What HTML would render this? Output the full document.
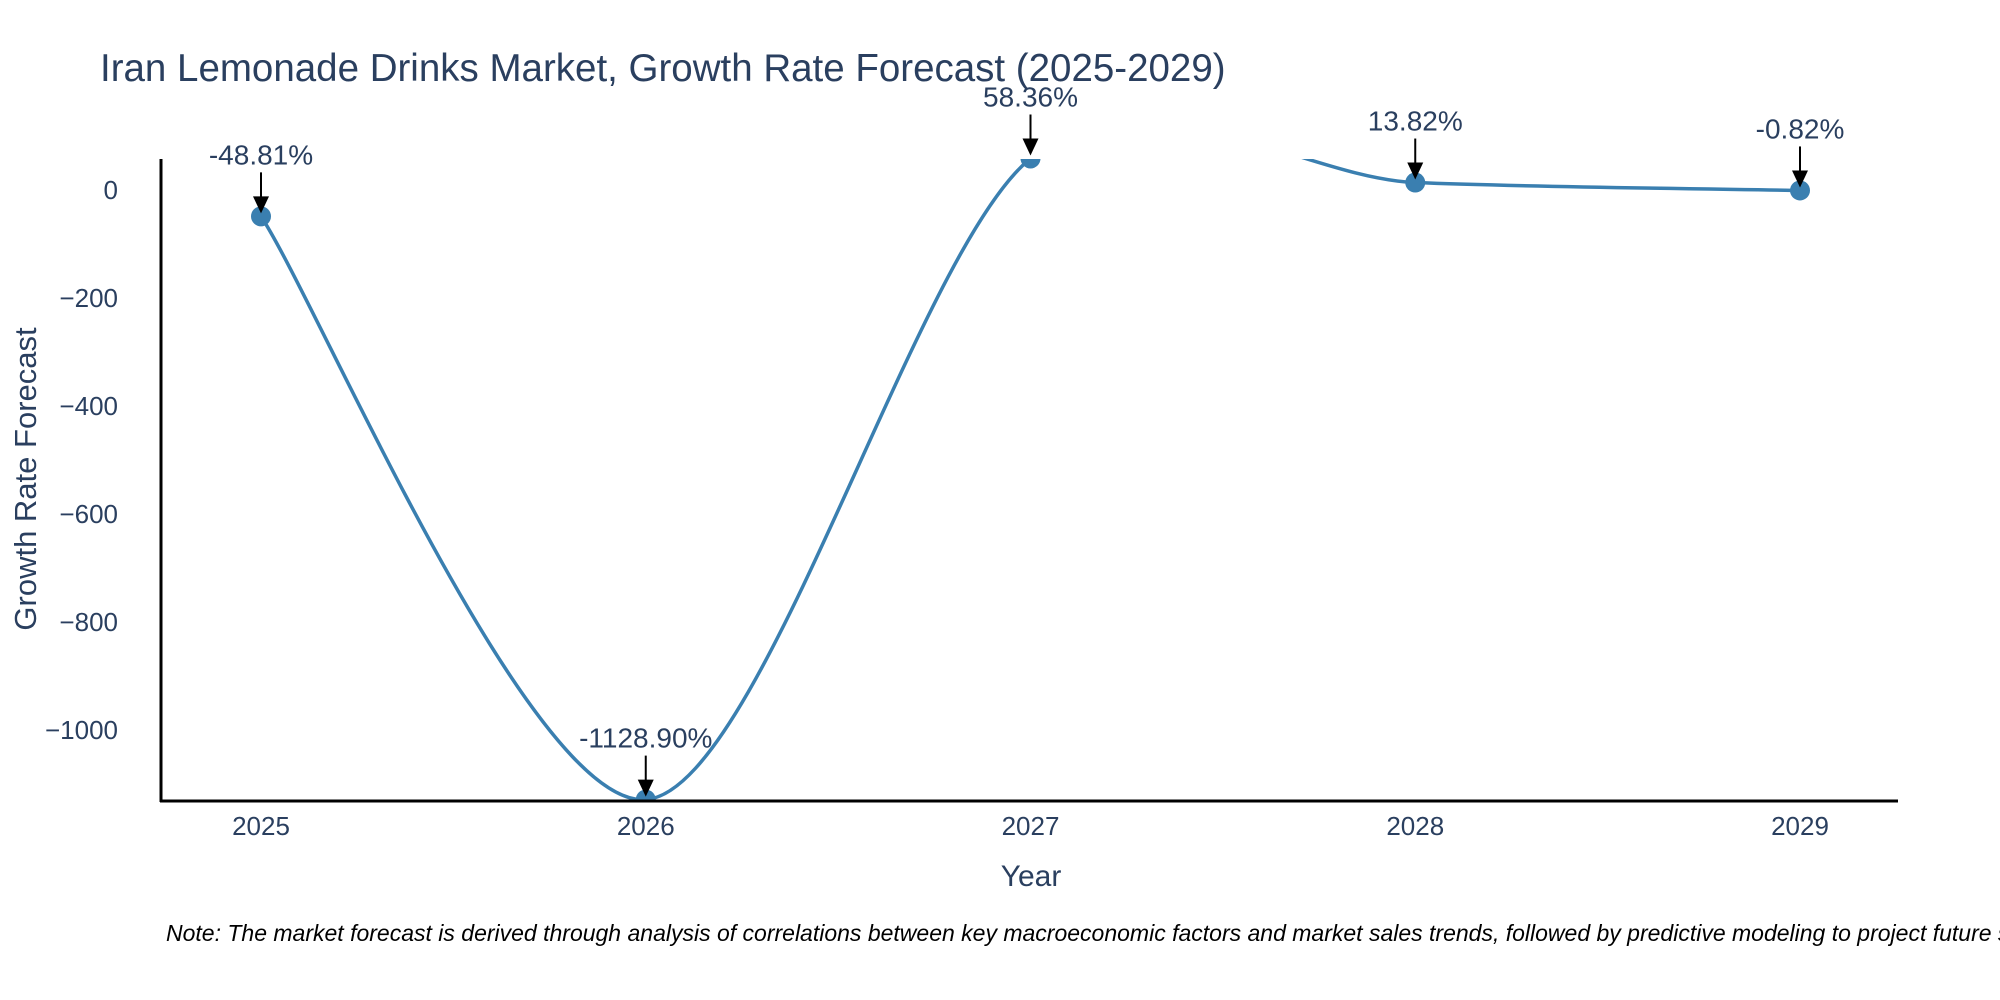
<!DOCTYPE html>
<html><head><meta charset="utf-8"><style>
html,body{margin:0;padding:0;background:#fff;width:2000px;height:1000px;overflow:hidden}
svg{display:block}
text{font-family:"Liberation Sans","DejaVu Sans",sans-serif}
</style></head><body>
<svg id="chart" width="2000" height="1000" viewBox="0 0 2000 1000">
<defs>
<clipPath id="plotclip"><rect x="161" y="159" width="1737" height="642"/></clipPath>
</defs>
<text x="100" y="81" font-size="38.5" fill="#2a3f5f">Iran Lemonade Drinks Market, Growth Rate Forecast (2025-2029)</text>
<g id="yticks"></g>
<g id="xticks"></g>
<g id="series" clip-path="url(#plotclip)"></g>
<g id="annos"></g>
<line x1="161" y1="159" x2="161" y2="802" stroke="#000" stroke-width="3"/>
<line x1="160" y1="801" x2="1898" y2="801" stroke="#000" stroke-width="3"/>
<text x="1031" y="886" font-size="30" fill="#2a3f5f" text-anchor="middle">Year</text>
<text x="0" y="0" font-size="31" fill="#2a3f5f" text-anchor="middle" transform="translate(36,479) rotate(-90)">Growth Rate Forecast</text>
<text x="166" y="941" font-size="23" font-style="italic" fill="#000">Note: The market forecast is derived through analysis of correlations between key macroeconomic factors and market sales trends, followed by predictive modeling to project future sales.</text>
</svg>
<script>
const years = [2025, 2026, 2027, 2028, 2029];
const growth = [-48.81, -1128.90, 58.36, 13.82, -0.82];
const labels = ["-48.81%", "-1128.90%", "58.36%", "13.82%", "-0.82%"];
const yTickValues = [0, -200, -400, -600, -800, -1000];
const yTickLabels = ["0", "\u2212200", "\u2212400", "\u2212600", "\u2212800", "\u22121000"];

const NS = "http://www.w3.org/2000/svg";
function xs(v){ return 261 + (v - 2025) * 384.75; }
function ys(v){ return 190 - v * 0.54; }
function mk(tag, attrs, parent){ const e=document.createElementNS(NS,tag); for(const k in attrs) e.setAttribute(k,attrs[k]); parent.appendChild(e); return e; }

const yt=document.getElementById('yticks');
yTickValues.forEach((v,i)=>{
  const t=mk('text',{x:118,y:ys(v)+9,'font-size':26,fill:'#2a3f5f','text-anchor':'end'},yt);
  
  
  t.textContent=yTickLabels[i];
});
const xt=document.getElementById('xticks');
years.forEach(y=>{
  const t=mk('text',{x:xs(y),y:835,'font-size':26,fill:'#2a3f5f','text-anchor':'middle'},xt);
  
  
  t.textContent=String(y);
});

const pts=years.map((y,i)=>[xs(y),ys(growth[i])]);
let d='M'+pts[0][0]+','+pts[0][1];
const s=0.3;
for(let i=0;i<pts.length-1;i++){
  const p0=pts[Math.max(0,i-1)],p1=pts[i],p2=pts[i+1],p3=pts[Math.min(pts.length-1,i+2)];
  const c1=[p1[0]+(p2[0]-p0[0])*s/2, p1[1]+(p2[1]-p0[1])*s/2];
  const c2=[p2[0]-(p3[0]-p1[0])*s/2, p2[1]-(p3[1]-p1[1])*s/2];
  d+=' C'+c1[0]+','+c1[1]+' '+c2[0]+','+c2[1]+' '+p2[0]+','+p2[1];
}
const ser=document.getElementById('series');
const line=mk('path',{d:d,fill:'none',stroke:'#3a7fb0','stroke-width':3.5},ser);


pts.forEach((p,i)=>{
  const c=mk('circle',{cx:p[0],cy:p[1],r:10,fill:'#3a7fb0'},ser);
  
  
});
const an=document.getElementById('annos');
pts.forEach((p,i)=>{
  const a=mk('line',{x1:p[0],y1:p[1]-44,x2:p[0],y2:p[1]-18,stroke:'#000','stroke-width':2},an);
  
  
  const h=mk('polygon',{points:(p[0]-8)+','+(p[1]-20)+' '+(p[0]+8)+','+(p[1]-20)+' '+p[0]+','+(p[1]-3),fill:'#000'},an);
  
  
  const t=mk('text',{x:p[0],y:p[1]-52,'font-size':28,fill:'#2a3f5f','text-anchor':'middle'},an);
  
  
  t.textContent=labels[i];
});
</script>
</body></html>
